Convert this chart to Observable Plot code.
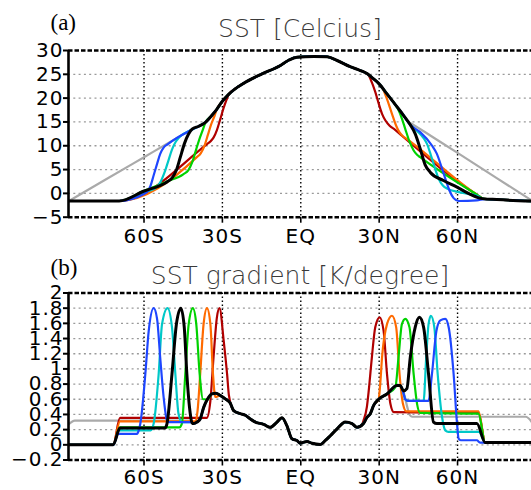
<!DOCTYPE html>
<html><head><meta charset="utf-8">
<script src="https://cdn.jsdelivr.net/npm/d3@7"></script>
<script src="https://cdn.jsdelivr.net/npm/@observablehq/plot@0.6"></script>
<style>
body{margin:0;background:#fff;}
#wrap{position:relative;width:531px;height:490px;overflow:hidden;background:#fff;}
#pa,#pb{position:absolute;left:0;}
#pa{top:0px}#pb{top:245px}
svg [aria-label="y-axis tick label"] text, svg [aria-label="x-axis tick label"] text{letter-spacing:1px;}
</style></head><body><div id="wrap"><div id="pa"></div><div id="pb"></div></div>
<script>
// ---- tick values / labels ----
const latTicks = [-60, -30, 0, 30, 60];
const latLabels = ["60S", "30S", "EQ", "30N", "60N"];
const sstTicks = [-5, 0, 5, 10, 15, 20, 25, 30];
const sstLabels = ["−5", "0", "5", "10", "15", "20", "25", "30"];
const gradTicks = [-0.2, 0, 0.2, 0.4, 0.6, 0.8, 1, 1.2, 1.4, 1.6, 1.8, 2];
const gradLabels = ["−0.2", "0", "0.2", "0.4", "0.6", "0.8", "1", "1.2", "1.4", "1.6", "1.8", "2"];

// ---- series ----
const seriesNames = ["gray", "darkred", "orange", "green", "cyan", "blue", "black"];
const seriesColors = ["#aaaaaa", "#b00000", "#ff6a00", "#00d200", "#00c8c8", "#1e46ff", "#000000"];

// ---- panel (a): SST [Celcius], shared tropical curve ----
const sstCore = [[-41.6, 13.5], [-39.0, 14.1], [-36.5, 14.9], [-34.0, 16.4], [-32.1, 17.7], [-30.2, 19.2],
  [-27.6, 20.8], [-25.0, 22.0], [-21.9, 23.1], [-14.8, 25.1], [-7.8, 26.85], [-4.5, 28.0], [-1.5, 28.6],
  [5.0, 28.75], [10.0, 28.7], [13.9, 27.9], [18.9, 26.6], [22.8, 25.8], [25.5, 25.1], [27.5, 24.2],
  [29.8, 23.1], [33.0, 20.9], [36.8, 18.2], [39.3, 16.4], [41.9, 14.4]];
const sstGraySH = [[-88.9, -1.65], [-75.0, 2.8], [-60.0, 7.6], [-50.0, 10.8], [-44.0, 12.7], [-41.6, 13.4]];
const sstGrayNH = [[40.6, 15.3], [43.0, 14.45], [50.0, 12.0], [60.0, 8.5], [75.0, 3.2], [88.6, -1.55]];
const sstRedSH = [[-88.9, -1.6], [-69.5, -1.6], [-36.0, 10.3], [-34.6, 10.9], [-33.4, 11.7], [-32.1, 13.3],
  [-30.8, 15.6], [-29.5, 18.0], [-28.4, 19.7]];
const sstRedNH = [[25.8, 24.9], [27.2, 23.3], [28.5, 21.3], [29.8, 18.9], [31.1, 16.7], [32.4, 15.3],
  [34.0, 14.2], [36.0, 13.4], [38.1, 12.4], [67.5, -0.3], [70.0, -1.15], [75.0, -1.3], [88.6, -1.62]];
const sstOrangeSH = [[-88.9, -1.6], [-69.5, -1.6], [-40.0, 7.5], [-38.3, 8.4], [-36.8, 10.1], [-35.5, 12.4],
  [-34.3, 14.5], [-33.0, 16.3]];
const sstOrangeNH = [[31.1, 22.3], [33.0, 19.8], [34.9, 16.7], [36.5, 14.2], [37.8, 12.8], [39.1, 12.0],
  [40.4, 11.5], [67.5, -0.3], [70.0, -1.15], [75.0, -1.3], [88.6, -1.62]];
const sstGreenSH = [[-88.9, -1.6], [-69.5, -1.6], [-60.2, 0.5], [-51.2, 2.5], [-45.0, 4.0], [-43.0, 4.9],
  [-41.5, 6.6], [-40.0, 9.3], [-38.6, 11.7], [-37.4, 13.5]];
const sstGreenNH = [[36.2, 18.6], [37.4, 17.5], [38.7, 15.7], [40.0, 13.5], [41.6, 10.9], [43.2, 9.0],
  [44.5, 8.1], [45.7, 7.6], [67.5, -0.3], [70.0, -1.15], [75.0, -1.3], [88.6, -1.62]];
const sstCyanSH = [[-88.9, -1.6], [-69.5, -1.6], [-60.2, 0.2], [-56.3, 0.9], [-55.0, 1.4], [-53.5, 2.6],
  [-52.0, 4.6], [-50.6, 7.0], [-49.3, 9.2], [-47.8, 10.9], [-46.5, 11.8], [-41.6, 13.4]];
const sstCyanNH = [[44.5, 13.1], [47.0, 11.6], [48.3, 10.4], [49.8, 8.0], [51.3, 5.4], [52.8, 3.0],
  [54.3, 1.7], [56.0, 1.0], [61.0, 0.2], [67.4, -0.5], [70.0, -1.15], [75.0, -1.3], [88.6, -1.62]];
const sstBlueSH = [[-88.9, -1.6], [-69.5, -1.6], [-60.2, -0.2], [-58.5, 0.5], [-57.5, 1.6], [-56.3, 3.8],
  [-55.0, 6.2], [-53.8, 8.3], [-52.5, 9.6], [-51.0, 10.3], [-41.6, 13.4]];
const sstBlueNH = [[45.7, 12.85], [50.2, 10.05], [52.1, 8.3], [54.0, 5.3], [55.5, 2.8], [56.9, 0.6],
  [58.5, -1.0], [60.4, -1.6], [67.4, -1.45], [70.5, -1.2], [75.0, -1.3], [88.6, -1.62]];
const sstBlackSH = [[-88.9, -1.6], [-69.5, -1.6], [-60.2, 0.45], [-51.2, 2.4], [-49.3, 3.2], [-47.6, 4.9],
  [-46.1, 7.6], [-44.5, 10.5], [-43.0, 12.4]];
const sstBlackNH = [[43.8, 12.5], [45.7, 9.4], [47.6, 6.0], [49.6, 4.4], [54.6, 2.7], [59.8, 1.3],
  [64.9, -0.2], [69.5, -1.1], [75.0, -1.3], [88.6, -1.62]];

// ---- panel (b): SST gradient [K/degree], shared tropical curve ----
const gradCore = [[-41.0, 0.28], [-39.7, 0.30], [-38.5, 0.34], [-37.2, 0.49], [-35.9, 0.59], [-34.0, 0.67],
  [-32.5, 0.68], [-30.8, 0.65], [-28.9, 0.605], [-27.0, 0.55], [-25.7, 0.45], [-23.2, 0.41], [-21.2, 0.39],
  [-19.3, 0.34], [-17.4, 0.30], [-14.2, 0.27], [-11.7, 0.23], [-9.1, 0.30], [-7.2, 0.355], [-5.3, 0.25],
  [-3.4, 0.08], [-1.5, 0.057], [-0.2, 0.02], [1.1, 0.035], [2.4, 0.043], [4.3, 0.02], [7.5, 0.004],
  [9.4, 0.057], [11.3, 0.12], [13.9, 0.21], [17.0, 0.30], [19.6, 0.28], [21.5, 0.23], [24.0, 0.28],
  [25.3, 0.36], [26.6, 0.41], [27.9, 0.52], [29.8, 0.60], [33.0, 0.67], [36.8, 0.78], [38.1, 0.78],
  [39.3, 0.71], [40.6, 0.74]];
const gradGraySH = [[-88.9, 0.27], [-86.5, 0.32], [-42.0, 0.32]];
const gradGrayNH = [[39.3, 0.70], [40.6, 0.52], [41.6, 0.40], [42.6, 0.37], [86.1, 0.37], [88.6, 0.29]];
const gradRedSH = [[-88.9, 0], [-71.8, 0], [-69.2, 0.355], [-36.0, 0.355], [-34.6, 0.58], [-33.4, 1.15],
  [-32.1, 1.68], [-31.1, 1.8], [-29.5, 1.37], [-28.2, 0.93], [-27.5, 0.65]];
const gradRedNH = [[23.2, 0.25], [24.0, 0.32], [25.3, 0.50], [26.0, 0.71], [27.2, 1.15], [28.5, 1.55],
  [30.2, 1.68], [31.7, 1.5], [33.0, 0.93], [34.3, 0.54], [35.6, 0.43], [68.0, 0.42], [70.6, 0.03], [88.6, 0.03]];
const gradOrangeSH = [[-88.9, 0], [-71.8, 0], [-69.2, 0.31], [-40.2, 0.31], [-39.5, 0.45], [-38.5, 0.93],
  [-37.2, 1.59], [-35.9, 1.8], [-34.6, 1.59], [-33.6, 0.93], [-32.7, 0.63]];
const gradOrangeNH = [[30.4, 0.8], [31.1, 1.15], [33.0, 1.59], [34.9, 1.70], [36.5, 1.55], [37.8, 0.93],
  [39.1, 0.54], [40.4, 0.44], [68.0, 0.44], [70.6, 0.03], [88.6, 0.03]];
const gradGreenSH = [[-88.9, 0], [-71.8, 0], [-69.2, 0.23], [-46.5, 0.23], [-45.5, 0.28], [-44.2, 0.93],
  [-42.9, 1.59], [-41.3, 1.8], [-40.0, 1.59], [-38.7, 0.93], [-37.4, 0.6], [-36.6, 0.6]];
const gradGreenNH = [[36.2, 0.76], [37.4, 1.15], [38.7, 1.59], [40.0, 1.66], [41.6, 1.55], [43.2, 0.93],
  [44.5, 0.54], [45.7, 0.42], [68.0, 0.41], [70.6, 0.03], [88.6, 0.03]];
const gradCyanSH = [[-88.9, 0], [-71.8, 0], [-69.5, 0.19], [-57.5, 0.19], [-56.3, 0.28], [-54.4, 0.93],
  [-53.1, 1.59], [-51.0, 1.8], [-49.3, 1.55], [-48.0, 0.93], [-46.8, 0.41], [-45.5, 0.3], [-42.0, 0.3]];
const gradCyanNH = [[39.3, 0.68], [40.0, 0.6], [41.0, 0.58], [47.0, 0.58], [48.0, 1.15], [48.9, 1.59],
  [49.8, 1.70], [51.1, 1.55], [52.4, 0.93], [54.1, 0.36], [55.3, 0.19], [56.5, 0.17], [68.2, 0.17],
  [70.6, 0.03], [88.6, 0.03]];
const gradBlueSH = [[-88.9, 0], [-71.8, 0], [-69.8, 0.145], [-62.7, 0.145], [-62.0, 0.19], [-61.4, 0.28],
  [-59.5, 0.93], [-58.2, 1.5], [-56.3, 1.8], [-55.0, 1.66], [-53.8, 1.15], [-52.5, 0.63], [-51.2, 0.32],
  [-50.5, 0.30], [-42.0, 0.30]];
const gradBlueNH = [[39.3, 0.68], [40.0, 0.6], [41.0, 0.58], [48.9, 0.58], [50.2, 0.93], [51.9, 1.5],
  [53.4, 1.64], [55.3, 1.66], [56.6, 1.55], [58.5, 0.93], [59.8, 0.28], [60.4, 0.08], [61.2, 0.06],
  [67.4, 0.06], [68.6, 0.03], [88.6, 0.03]];
const gradBlackSH = [[-88.9, 0], [-71.8, 0], [-69.2, 0.22], [-52.0, 0.22], [-51.2, 0.28], [-49.3, 0.93],
  [-47.6, 1.59], [-45.9, 1.8], [-44.6, 1.55], [-43.6, 0.93], [-42.3, 0.41], [-41.6, 0.29]];
const gradBlackNH = [[41.9, 1.15], [43.8, 1.55], [45.4, 1.68], [47.0, 1.55], [48.9, 0.93], [50.8, 0.30],
  [52.1, 0.28], [67.4, 0.28], [70.6, 0.03], [88.6, 0.03]];

// ---- assemble: SH part + shared core between them + NH part ----
function join(sh, core, nh) {
  const lo = sh[sh.length - 1][0] + 0.5, hi = nh[0][0] - 0.5;
  return [...sh, ...core.filter(p => p[0] > lo && p[0] < hi), ...nh];
}
const sstParts = [[sstGraySH, sstGrayNH], [sstRedSH, sstRedNH], [sstOrangeSH, sstOrangeNH],
  [sstGreenSH, sstGreenNH], [sstCyanSH, sstCyanNH], [sstBlueSH, sstBlueNH], [sstBlackSH, sstBlackNH]];
const gradParts = [[gradGraySH, gradGrayNH], [gradRedSH, gradRedNH], [gradOrangeSH, gradOrangeNH],
  [gradGreenSH, gradGreenNH], [gradCyanSH, gradCyanNH], [gradBlueSH, gradBlueNH], [gradBlackSH, gradBlackNH]];

function rows(parts, core) {
  return parts.map(([sh, nh], k) => join(sh, core, nh).map(([lat, v]) => ({series: seriesNames[k], lat, v})));
}

const XDOM = [-88.9, 88.3];
const FONT = "DejaVu Sans";

function panel({series, yDomain, yTicks, yLabels, title, tag, marginTop, marginBottom, titleDy, tagDy, xPad}) {
  const lines = series.map((data, k) => Plot.line(data, {
    x: "lat", y: "v", stroke: seriesColors[k], strokeWidth: seriesNames[k] === "black" ? 3 : 2.2,
    curve: "monotone-x", clip: true
  }));
  const inner = yTicks.filter(t => t !== yDomain[0] && t !== yDomain[1]);
  return Plot.plot({
    width: 531, height: 245, marginLeft: 68, marginRight: 0, marginTop, marginBottom,
    x: {domain: XDOM}, y: {domain: yDomain},
    style: {fontFamily: FONT, fontSize: "20px", background: "white", color: "black", overflow: "visible"},
    marks: [
      Plot.gridY(inner, {stroke: "#9a9a9a", strokeOpacity: 1, strokeWidth: 1.3, strokeDasharray: "2,3.3"}),
      Plot.gridX(latTicks, {stroke: "black", strokeOpacity: 1, strokeWidth: 1.4, strokeDasharray: "1.6,2.4"}),
      ...lines,
      Plot.ruleX([XDOM[0]], {stroke: "black", strokeWidth: 2.6}),
      Plot.ruleY([yDomain[1]], {stroke: "black", strokeWidth: 2.4, strokeDasharray: "4.5,2"}),
      Plot.ruleY([yDomain[0]], {stroke: "black", strokeWidth: 2.4, strokeDasharray: "4.5,2"}),
      Plot.axisY(yTicks, {tickFormat: d => yLabels[yTicks.indexOf(d)], tickSize: 5, tickPadding: 0,
        strokeWidth: 2, fontSize: 20, label: null}),
      Plot.axisX(latTicks, {tickFormat: d => latLabels[latTicks.indexOf(d)], tickSize: 6, tickPadding: xPad,
        strokeWidth: 1.6, fontSize: 20, label: null}),
      Plot.text([title], {frameAnchor: "top", lineAnchor: "bottom", dy: titleDy, fontSize: 25,
        fontWeight: 200, fill: "#3a3a3a", text: d => d}),
      Plot.text([tag], {frameAnchor: "top-left", lineAnchor: "bottom", textAnchor: "start", dx: -18, dy: tagDy,
        fontSize: 23, fontFamily: "Liberation Serif", fill: "black", text: d => d})
    ]
  });
}

document.getElementById("pa").append(panel({
  series: rows(sstParts, sstCore), yDomain: [-5, 30], yTicks: sstTicks, yLabels: sstLabels,
  title: "SST [Celcius]", tag: "(a)", marginTop: 50, marginBottom: 28.3, titleDy: -13.3, tagDy: -21, xPad: 6
}));
document.getElementById("pb").append(panel({
  series: rows(gradParts, gradCore), yDomain: [-0.2, 2], yTicks: gradTicks, yLabels: gradLabels,
  title: "SST gradient [K/degree]", tag: "(b)", marginTop: 47.5, marginBottom: 30.5, titleDy: -9.2, tagDy: -18, xPad: 4
}));
</script></body></html>
